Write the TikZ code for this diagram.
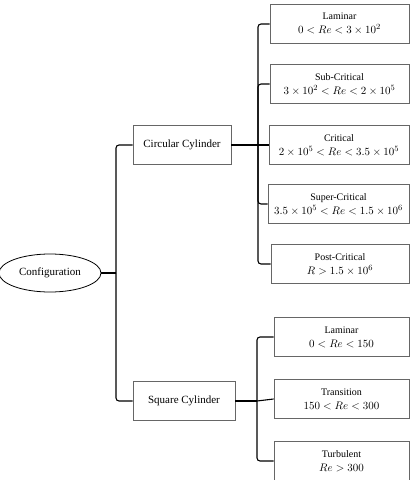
\documentclass[tikz,border=0pt]{standalone}
\usepackage{fontspec}
\setmainfont{Liberation Serif}
\usetikzlibrary{shapes.geometric}
\newcommand{\regime}[2]{{\fontsize{10}{14}\selectfont #1}\\#2}
\tikzset{
	box/.style={draw=gray!80!black, line width=0.8pt, minimum height=39pt, align=center, font=\fontsize{11}{14}\selectfont},
	link/.style={line width=1.1pt, rounded corners=3pt},
}
\begin{document}
\begin{tikzpicture}[x=1pt,y=-1pt]
	\useasboundingbox (0,0) rectangle (411,480);
	\node[ellipse, draw, line width=0.8pt, minimum width=102pt, minimum height=38pt, font=\fontsize{11}{14}\selectfont] (conf) at (50,273) {Configuration};
	\node[box, minimum width=98pt] (circ) at (182,145) {Circular Cylinder};
	\node[box, minimum width=102pt] (sq) at (184,401) {Square Cylinder};
	\node[box, minimum width=139pt] (lam) at (339.5,24) {\regime{Laminar}{$0<Re<3\times10^2$}};
	\node[box, minimum width=139pt] (sub) at (339.5,84) {\regime{Sub-Critical}{$3\times10^2<Re<2\times10^5$}};
	\node[box, minimum width=140pt] (crit) at (339,145) {\regime{Critical}{$2\times10^5<Re<3.5\times10^5$}};
	\node[box, minimum width=141pt] (sup) at (338.5,204) {\regime{Super-Critical}{$3.5\times10^5<Re<1.5\times10^6$}};
	\node[box, minimum width=138pt] (post) at (340,264) {\regime{Post-Critical}{$R>1.5\times10^6$}};
	\node[box, minimum width=135pt] (slam) at (341.5,337) {\regime{Laminar}{$0<Re<150$}};
	\node[box, minimum width=135pt] (trans) at (341.5,399) {\regime{Transition}{$150<Re<300$}};
	\node[box, minimum width=135pt] (turb) at (341.5,461) {\regime{Turbulent}{$Re>300$}};
	\draw[link] (conf.east) -- (116,273) coordinate (tc);
	\draw[link] (tc) |- (circ.west);
	\draw[link] (tc) |- (sq.west);
	\draw[link] (circ.east) -- (258,145) coordinate (tr);
	\draw[link] (tr) |- (lam.west);
	\draw[link] (tr) |- (sub.west);
	\draw[link] (tr) -- (crit.west);
	\draw[link] (tr) |- (sup.west);
	\draw[link] (tr) |- (post.west);
	\draw[link] (sq.east) -- (257,401) coordinate (ts);
	\draw[link] (ts) |- (slam.west);
	\draw[link] (ts) -- (trans.west);
	\draw[link] (ts) |- (turb.west);
\end{tikzpicture}
\end{document}
